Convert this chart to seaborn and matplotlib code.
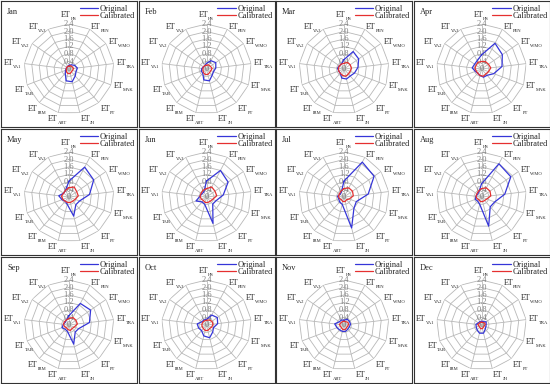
import numpy as np
import pandas as pd
import matplotlib
matplotlib.use("Agg")
import matplotlib.pyplot as plt
import seaborn as sns

# Categories clockwise from the top
categories = ["HS", "PEN", "WMO", "TRA", "MAK", "PT", "JH", "ABT", "IRM", "TAB", "VA1", "VA2", "VA3"]
months = ["Jan", "Feb", "Mar", "Apr", "May", "Jun", "Jul", "Aug", "Sep", "Oct", "Nov", "Dec"]

# Original (uncalibrated) values per month, same order as categories
orig_jan = [0.20, 0.25, 0.35, 0.45, 0.40, 0.50, 0.70, 0.65, 0.30, 0.20, 0.15, 0.15, 0.15]
orig_feb = [0.30, 0.50, 0.60, 0.50, 0.40, 0.45, 0.65, 0.60, 0.30, 0.30, 0.25, 0.20, 0.20]
orig_mar = [0.50, 1.05, 0.95, 0.75, 0.60, 0.50, 0.55, 0.50, 0.30, 0.30, 0.35, 0.30, 0.30]
orig_apr = [0.75, 1.55, 1.35, 1.10, 0.70, 0.45, 0.45, 0.35, 0.30, 0.35, 0.50, 0.45, 0.50]
orig_may = [0.85, 1.80, 1.60, 1.10, 0.60, 0.55, 1.05, 0.40, 0.30, 0.40, 0.55, 0.35, 0.40]
orig_jun = [0.85, 1.60, 1.40, 0.90, 0.55, 0.50, 1.45, 0.40, 0.35, 0.60, 0.35, 0.30, 0.30]
orig_jul = [0.85, 2.10, 1.95, 1.30, 0.70, 0.80, 1.70, 0.40, 0.35, 0.30, 0.35, 0.25, 0.30]
orig_aug = [0.70, 2.00, 1.90, 1.25, 0.75, 0.70, 1.60, 0.40, 0.30, 0.35, 0.30, 0.25, 0.30]
orig_sep = [0.50, 1.30, 1.40, 1.10, 0.55, 0.50, 1.05, 0.35, 0.30, 0.40, 0.30, 0.25, 0.30]
orig_oct = [0.30, 0.60, 0.70, 0.60, 0.40, 0.50, 0.70, 0.60, 0.40, 0.45, 0.50, 0.30, 0.30]
orig_nov = [0.25, 0.35, 0.35, 0.35, 0.30, 0.30, 0.35, 0.35, 0.35, 0.40, 0.50, 0.30, 0.30]
orig_dec = [0.20, 0.20, 0.30, 0.25, 0.25, 0.30, 0.45, 0.45, 0.35, 0.30, 0.30, 0.20, 0.20]

# Calibrated values per month
cal_jan = [0.15, 0.20, 0.20, 0.25, 0.20, 0.20, 0.25, 0.25, 0.20, 0.15, 0.15, 0.15, 0.15]
cal_feb = [0.20, 0.25, 0.25, 0.30, 0.25, 0.25, 0.30, 0.30, 0.25, 0.20, 0.20, 0.20, 0.20]
cal_mar = [0.30, 0.40, 0.40, 0.40, 0.35, 0.35, 0.40, 0.35, 0.30, 0.30, 0.30, 0.30, 0.30]
cal_apr = [0.40, 0.45, 0.45, 0.50, 0.40, 0.35, 0.40, 0.35, 0.30, 0.30, 0.35, 0.35, 0.40]
cal_may = [0.50, 0.60, 0.50, 0.50, 0.35, 0.30, 0.30, 0.30, 0.30, 0.35, 0.40, 0.35, 0.40]
cal_jun = [0.45, 0.60, 0.55, 0.55, 0.35, 0.30, 0.30, 0.30, 0.25, 0.30, 0.35, 0.35, 0.40]
cal_jul = [0.45, 0.55, 0.55, 0.50, 0.30, 0.20, 0.25, 0.25, 0.20, 0.25, 0.30, 0.30, 0.35]
cal_aug = [0.45, 0.55, 0.55, 0.50, 0.30, 0.25, 0.25, 0.25, 0.20, 0.25, 0.30, 0.30, 0.35]
cal_sep = [0.35, 0.45, 0.45, 0.45, 0.30, 0.25, 0.30, 0.25, 0.20, 0.25, 0.30, 0.30, 0.30]
cal_oct = [0.25, 0.30, 0.35, 0.35, 0.30, 0.25, 0.30, 0.30, 0.25, 0.25, 0.25, 0.25, 0.25]
cal_nov = [0.20, 0.20, 0.25, 0.25, 0.20, 0.20, 0.25, 0.25, 0.20, 0.20, 0.25, 0.20, 0.20]
cal_dec = [0.15, 0.15, 0.20, 0.20, 0.15, 0.15, 0.20, 0.20, 0.15, 0.15, 0.20, 0.15, 0.15]

original = [orig_jan, orig_feb, orig_mar, orig_apr, orig_may, orig_jun,
            orig_jul, orig_aug, orig_sep, orig_oct, orig_nov, orig_dec]
calibrated = [cal_jan, cal_feb, cal_mar, cal_apr, cal_may, cal_jun,
              cal_jul, cal_aug, cal_sep, cal_oct, cal_nov, cal_dec]

r_ticks = [0, 0.4, 0.8, 1.2, 1.6, 2.0, 2.4]
r_tick_labels = ["0", "0.4", "0.8", "1.2", "1.6", "2.0", "2.4"]

# label alignment around the web (style only)
label_ha = ["center", "left", "left", "left", "left", "left", "left",
            "center", "center", "center", "right", "right", "right"]
label_va = ["bottom", "center", "center", "center", "center", "top", "top",
            "top", "top", "top", "center", "center", "center"]
label_r = [2.68, 2.55, 2.55, 2.55, 2.55, 2.55, 2.55,
           2.55, 2.55, 2.55, 2.55, 2.55, 2.55]

BLUE = "#3535d8"
RED = "#e53030"
GRID = "#b8b8b8"
FS_ET = 5.8
FS_SUB = 3.3

sns.set_theme(style="white")
plt.rcParams["font.family"] = ["Liberation Serif", "DejaVu Serif"]

W, H = 550, 384
fig = plt.figure(figsize=(W / 100, H / 100), dpi=100)
fig.patch.set_facecolor("white")

col_x = [1, 138.5, 276, 413.5]
row_y = [1, 129, 257]
pw, ph = 136, 126
R = 45  # pixel radius of the 2.4 ring

n = len(categories)
theta = np.arange(n) * 2 * np.pi / n
theta_closed = np.append(theta, 2 * np.pi)


def sub_width(s):
    # rough width in points of a subscript string
    return sum(0.5 if ch.isdigit() else 0.68 for ch in s) * FS_SUB


def et_label(ax, t, r, sub, ha, va):
    w = sub_width(sub)
    dx = {"left": 0, "right": -w, "center": -w / 2}[ha]
    et = ax.annotate("ET", xy=(t, r), xytext=(dx, 0), textcoords="offset points",
                     ha=ha, va=va, fontsize=FS_ET, annotation_clip=False)
    ax.annotate(sub, xy=(1, 0.0), xycoords=et, ha="left", va="center",
                fontsize=FS_SUB, annotation_clip=False)


for i, month in enumerate(months):
    x0 = col_x[i % 4]
    y0 = row_y[i // 4]

    # panel frame
    fax = fig.add_axes([x0 / W, 1 - (y0 + ph) / H, pw / W, ph / H])
    fax.set_xticks([])
    fax.set_yticks([])
    fax.set_facecolor("none")
    for sp in fax.spines.values():
        sp.set_visible(True)
        sp.set_color("#333333")
        sp.set_linewidth(0.8)
    fax.text(6 / pw, 1 - 11 / ph, month, transform=fax.transAxes,
             fontsize=6, ha="left", va="center")

    # radar axes
    cx, cy = x0 + 68, y0 + 68
    ax = fig.add_axes([(cx - R) / W, 1 - (cy + R) / H, 2 * R / W, 2 * R / H],
                      projection="polar")
    ax.set_facecolor("none")
    ax.set_theta_zero_location("N")
    ax.set_theta_direction(-1)

    df = pd.DataFrame({
        "theta": theta_closed,
        "Original": original[i] + original[i][:1],
        "Calibrated": calibrated[i] + calibrated[i][:1],
    })
    sns.lineplot(data=df, x="theta", y="Original", ax=ax, sort=False,
                 estimator=None, color=BLUE, linewidth=0.9, label="Original",
                 legend=False, zorder=4)
    sns.lineplot(data=df, x="theta", y="Calibrated", ax=ax, sort=False,
                 estimator=None, color=RED, linewidth=0.9, label="Calibrated",
                 legend=False, zorder=5)
    handles = ax.get_lines()[-2:]
    ax.set_xlabel("")
    ax.set_ylabel("")

    ax.spines["polar"].set_visible(False)
    ax.set_xticks(theta)
    ax.set_xticklabels([])
    ax.set_yticks(r_ticks)
    ax.set_yticklabels([])
    ax.yaxis.grid(False)
    ax.xaxis.grid(True, color=GRID, linewidth=0.6)

    # polygon rings
    for r in r_ticks[1:]:
        ax.plot(theta_closed, [r] * (n + 1), color=GRID, linewidth=0.6, zorder=1)
    ax.set_ylim(0, 2.4)

    for r, lab in zip(r_ticks, r_tick_labels):
        ax.text(0, r, lab, fontsize=6, color="#808080", ha="center", va="center",
                zorder=2)

    for t, c, ha, va, lr in zip(theta, categories, label_ha, label_va, label_r):
        et_label(ax, t, lr, c, ha, va)

    fax.legend(handles, ["Original", "Calibrated"], loc="upper right",
               bbox_to_anchor=(1.0, 1 - 2 / ph), frameon=False, fontsize=6,
               handlelength=2.2, handletextpad=0.2, labelspacing=-0.1,
               borderpad=0.2, borderaxespad=0.0)

fig.savefig("out.png", dpi=100)
